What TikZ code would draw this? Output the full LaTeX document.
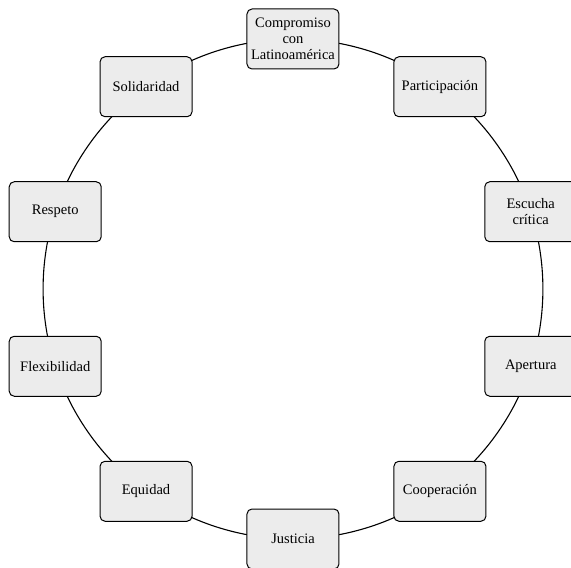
\documentclass[tikz,border=0pt]{standalone}
\usepackage{fontspec}
\setmainfont{Liberation Serif}
\usepackage{tikz}
\usetikzlibrary{arrows,backgrounds}

\definecolor{valuefill}{HTML}{ECECEC}

\begin{document}
\begin{tikzpicture}[-, line width=1pt,
    value/.style={draw, rounded corners=5pt, fill=valuefill, minimum width=92pt,
                  minimum height=60pt, align=center, inner sep=2pt,
                  font=\fontsize{14.5}{16}\selectfont},
    ring/.style={line width=1.1pt, looseness=0.87}]
  \useasboundingbox (-293pt,-279pt) rectangle (278pt,289pt);

  \node[value] (Comp) at (90:250pt)  {Compromiso\\con\\Latinoamérica};
  \node[value] (Part) at (54:250pt)  {Participación};
  \node[value] (Escu) at (18:250pt)  {Escucha\\crítica};
  \node[value] (Aper) at (-18:250pt) {Apertura};
  \node[value] (Coop) at (-54:250pt) {Cooperación};
  \node[value] (Just) at (-90:250pt) {Justicia};
  \node[value] (Equi) at (234:250pt) {Equidad};
  \node[value] (Flex) at (198:250pt) {Flexibilidad};
  \node[value] (Resp) at (162:250pt) {Respeto};
  \node[value] (Soli) at (126:250pt) {Solidaridad};

  % ring behind the boxes
  \begin{pgfonlayer}{background}
  \path[ring]
        (Comp.center) edge [bend left=18] (Part.center)
        (Part.center) edge [bend left=18] (Escu.center)
        (Escu.center) edge [bend left=18] (Aper.center)
        (Aper.center) edge [bend left=18] (Coop.center)
        (Coop.center) edge [bend left=18] (Just.center)
        (Just.center) edge [bend left=18] (Equi.center)
        (Equi.center) edge [bend left=18] (Flex.center)
        (Flex.center) edge [bend left=18] (Resp.center)
        (Resp.center) edge [bend left=18] (Soli.center)
        (Soli.center) edge [bend left=18] (Comp.center)
        ;
  \end{pgfonlayer}
\end{tikzpicture}
\end{document}
